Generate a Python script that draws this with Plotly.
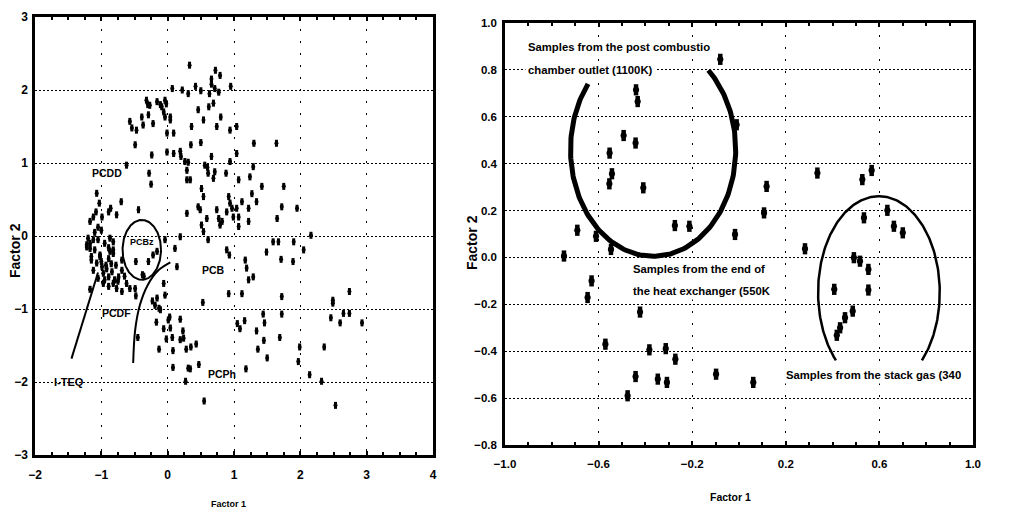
import numpy as np
import plotly.graph_objects as go

# ---------------- data: left panel (factor scores of all samples) ----------------
left_x = [
    0.33, 0.72, 0.66, 0.79, 0.66, 0.95, 0.07, 0.22, 0.31, 0.42, 0.50, 0.63, 0.71, 0.77,
    -0.32, -0.30, -0.27, -0.16, -0.09, -0.04, -0.11, -0.02, -0.06, 0.62, 0.69, 0.46, 0.80,
    -0.57, -0.54, -0.47, -0.39, -0.37, -0.29, -0.22, -0.04, 0.04, 0.04, 0.54, 0.36, 0.74, 0.94, 1.04,
    -0.01, 0.09, 0.50, 0.35, 1.30, 1.64, -0.49, -0.24, -0.01, 0.09, 0.19, 0.20, 0.26, 0.31, 0.66, 0.56, 0.60, 1.04, 0.94, 1.29,
    -0.62, -0.28, -0.25, 0.29, 0.34, 0.29, 0.61, 0.71, 0.69, 0.88, 1.07, 1.24, 1.42, 1.75,
    0.51, 0.54, 0.46, 0.49, 0.29, 0.92, 0.94, 1.27, 1.34, 1.12, 0.97, 1.04, 0.89, 0.99, 1.07, 1.22, 1.22, 0.74, 0.77, 0.79, 0.82, 0.59, 0.51, 0.54, 1.07, 1.65, 1.72, 1.95,
    0.19, 0.61, 0.11, 0.89, 0.93, 1.49, 1.59, 1.67, 1.90, 2.05, 2.16, 1.71, 1.89, 1.17, 1.19, 1.29, 1.22, 0.14, -0.06, 0.92, 1.12, 1.72, 1.72, 0.53,
    2.74, 2.49, 2.49, 2.65, 2.74, 2.46, 2.60, 2.93, 1.99, 2.36, 1.97, 2.14, 2.32, 2.53,
    1.44, 1.46, 1.05, 1.09, 1.16, 1.34, 1.45, 1.36, 1.50, 1.69, 1.18, 0.55, 0.27, 0.34, 0.47, 0.08,
    -0.13, -0.02, 0.08, 0.07, -0.06, 0.23, 0.24, 0.03, 0.19, 0.28, 0.35, 0.43, -0.17, -0.23, -0.19, -0.13, -0.16, -0.11, -0.45, -0.36, -0.48, -1.17, 0.01, 0.04, 0.19, 0.31, -0.04,
    -1.07, -1.03, -1.08, -1.12, -1.17, -0.99, -0.89, -0.86, -0.77, -0.70, -0.44, -1.00,
    -1.20, -1.22, -1.17, -1.12, -1.10, -1.02, -1.15, -0.87, -0.82, -0.89, -0.82, -0.04, -0.16, -0.22,
    -1.17, -1.22, -1.02, -1.15, -1.07, -0.99, -1.12, -0.97, -0.89, -0.84, -1.05, -0.82, -0.77, -0.69, -0.89, -0.62, -0.97, -0.74, -0.69, -0.87, -0.82, -0.69, -0.89, -0.57,
    -0.48, -0.29, -0.38, -0.49, -1.05, -0.95, -1.00, -0.93, -0.78, -0.80, -0.95, -1.10, -1.05, -0.92, -0.85, -0.75, -0.65,
]
left_y = [
    2.34, 2.27, 2.15, 2.20, 2.08, 2.05, 2.02, 2.00, 1.95, 2.05, 1.99, 1.95, 2.02, 1.97,
    1.86, 1.80, 1.79, 1.84, 1.77, 1.86, 1.80, 1.81, 1.70, 1.77, 1.82, 1.73, 1.63,
    1.57, 1.48, 1.45, 1.63, 1.52, 1.66, 1.54, 1.63, 1.59, 1.63, 1.59, 1.50, 1.50, 1.45, 1.50,
    1.41, 1.41, 1.28, 1.25, 1.27, 1.27, 1.25, 1.11, 1.15, 1.13, 1.16, 1.09, 1.02, 1.01, 1.09, 0.97, 0.94, 1.13, 1.02, 0.95,
    0.97, 0.86, 0.71, 0.90, 0.77, 0.77, 0.86, 0.88, 0.79, 0.86, 0.77, 0.81, 0.68, 0.68,
    0.65, 0.54, 0.40, 0.36, 0.31, 0.54, 0.45, 0.58, 0.47, 0.47, 0.38, 0.38, 0.33, 0.26, 0.26, 0.38, 0.20, 0.36, 0.24, 0.15, 0.20, 0.24, 0.15, 0.06, 0.13, 0.24, 0.40, 0.38,
    -0.01, -0.05, -0.17, -0.19, -0.26, -0.22, -0.08, -0.08, -0.08, -0.19, 0.01, -0.32, -0.35, -0.33, -0.44, -0.56, -0.60, -0.42, -0.65, -0.79, -0.79, -0.83, -1.07, -0.91,
    -0.76, -0.88, -0.92, -1.06, -1.06, -1.12, -1.19, -1.19, -1.52, -1.52, -1.72, -1.90, -1.99, -2.32,
    -1.07, -1.19, -1.20, -1.27, -1.16, -1.30, -1.43, -1.55, -1.67, -1.39, -1.82, -2.26, -1.99, -1.82, -1.76, -1.80,
    -1.55, -1.41, -1.57, -1.39, -1.27, -1.30, -1.40, -1.11, -1.14, -1.55, -1.52, -1.48, -1.18, -0.89, -0.95, -0.99, -0.85, -1.01, -1.39, -0.55, -0.82, -0.73, -1.15, -1.26, -1.42, -1.81, -0.81,
    0.585, 0.45, 0.33, 0.26, 0.20, 0.26, 0.33, 0.38, 0.29, 0.47, 0.36, 0.08,
    -0.03, -0.12, -0.17, -0.05, -0.19, -0.28, -0.28, -0.03, -0.08, -0.16, -0.19, -0.05, -0.21, -0.26,
    -0.10, -0.15, -0.26, -0.33, -0.37, -0.42, -0.47, -0.51, -0.56, -0.49, -0.58, -0.65, -0.72, -0.76, -0.69, -0.65, -0.65, -0.56, -0.47, -0.21, -0.24, -0.33, -0.31, -0.72,
    -0.35, -0.35, -0.53, -0.72, -0.05, -0.10, -0.35, -0.40, -0.40, -0.60, -0.60, 0.05, 0.12, -0.45, -0.38, -0.62, -0.55,
]

# ---------------- data: right panel ----------------
right_x = [-0.08, -0.44, -0.433, -0.01, -0.493, -0.442, -0.553, -0.543, -0.554, -0.409,
           0.118, 0.107, 0.335, 0.527, 0.567, 0.534, 0.634, 0.662, 0.70, -0.691,
           -0.611, -0.274, -0.212, -0.017, 0.282, -0.748, -0.547, 0.491, 0.517, 0.553,
           -0.63, -0.647, 0.407, 0.553, -0.423, 0.486, 0.453, 0.432, 0.418, -0.571,
           -0.383, -0.313, -0.272, -0.442, -0.347, -0.308, -0.098, 0.061, -0.476]
right_y = [0.845, 0.715, 0.665, 0.566, 0.52, 0.488, 0.445, 0.357, 0.314, 0.297,
           0.303, 0.19, 0.36, 0.332, 0.371, 0.169, 0.201, 0.133, 0.105, 0.116,
           0.09, 0.136, 0.133, 0.098, 0.037, 0.006, 0.034, -0.001, -0.016, -0.051,
           -0.10, -0.171, -0.136, -0.139, -0.233, -0.229, -0.257, -0.30, -0.332, -0.37,
           -0.394, -0.389, -0.434, -0.508, -0.519, -0.533, -0.498, -0.533, -0.59]

left_xticks = [-2, -1, 0, 1, 2, 3, 4]
left_yticks = [-3, -2, -1, 0, 1, 2, 3]
right_xticks = [-1.0, -0.6, -0.2, 0.2, 0.6, 1.0]
right_yticks = [-0.8, -0.6, -0.4, -0.2, 0.0, 0.2, 0.4, 0.6, 0.8, 1.0]

# group labels (left)  text, x, y, size
left_labels = [("PCDD", -0.91, 0.86, 10.5), ("PCBz", -0.38, -0.08, 9), ("PCB", 0.69, -0.47, 10.5),
               ("PCDF", -0.77, -1.06, 10.5), ("PCPh", 0.82, -1.89, 10.5), ("I-TEQ", -1.49, -2.0, 11)]
# annotation texts (right) text, x(left edge), y
right_labels = [("Samples from the post combustio", -0.915, 0.898),
                ("chamber outlet (1100K)", -0.915, 0.80),
                ("Samples from the end of", -0.466, -0.051),
                ("the heat exchanger (550K", -0.466, -0.145),
                ("Samples from the stack gas (340", 0.188, -0.502)]

# outline shapes: ellipse arcs (cx, cy, rx, ry, start_deg, end_deg, width)
right_arcs = [(-0.367, 0.46, 0.353, 0.455, 142, 408, 5),
              (0.598, -0.149, 0.26, 0.41, -45, 225, 2.5)]
left_arcs = [(-0.39, -0.19, 0.29, 0.41, 0, 360, 2)]
iteq_line_x = [-1.45, -1.05]
iteq_line_y = [-1.68, -0.50]
pcdf_curve_x = [-0.52, -0.49, -0.42, -0.30, -0.14, 0.04]
pcdf_curve_y = [-1.74, -1.29, -0.95, -0.67, -0.47, -0.36]

FONT = "Liberation Sans, Arial, sans-serif"
W, H = 1030, 513

fig = go.Figure()

# left points (small upright ovals)
fig.add_trace(go.Scatter(x=left_x, y=left_y, mode="markers", xaxis="x", yaxis="y",
                         marker=dict(symbol="circle", size=4, color="black", line=dict(width=0))))
fig.add_trace(go.Scatter(x=left_x, y=left_y, mode="markers", xaxis="x", yaxis="y",
                         marker=dict(symbol="line-ns", size=5, color="black",
                                     line=dict(width=3, color="black"))))
# right points (larger upright ovals)
fig.add_trace(go.Scatter(x=right_x, y=right_y, mode="markers", xaxis="x2", yaxis="y2",
                         marker=dict(symbol="circle", size=6.2, color="black", line=dict(width=0))))
fig.add_trace(go.Scatter(x=right_x, y=right_y, mode="markers", xaxis="x2", yaxis="y2",
                         marker=dict(symbol="line-ns", size=8, color="black",
                                     line=dict(width=4.5, color="black"))))


def arc(cx, cy, rx, ry, a0, a1):
    t = np.radians(np.linspace(a0, a1, 200))
    return cx + rx * np.cos(t), cy + ry * np.sin(t)


for (cx, cy, rx, ry, a0, a1, w) in right_arcs:
    ax_, ay_ = arc(cx, cy, rx, ry, a0, a1)
    fig.add_trace(go.Scatter(x=ax_, y=ay_, mode="lines", xaxis="x2", yaxis="y2",
                             line=dict(color="black", width=w)))
for (cx, cy, rx, ry, a0, a1, w) in left_arcs:
    ax_, ay_ = arc(cx, cy, rx, ry, a0, a1)
    fig.add_trace(go.Scatter(x=ax_, y=ay_, mode="lines", xaxis="x", yaxis="y",
                             line=dict(color="black", width=w)))
fig.add_trace(go.Scatter(x=iteq_line_x, y=iteq_line_y, mode="lines", xaxis="x", yaxis="y",
                         line=dict(color="black", width=2)))
fig.add_trace(go.Scatter(x=pcdf_curve_x, y=pcdf_curve_y, mode="lines", xaxis="x", yaxis="y",
                         line=dict(color="black", width=2, shape="spline")))

annotations = []
for (t, x, y, s) in left_labels:
    annotations.append(dict(text=t, x=x, y=y, xref="x", yref="y", showarrow=False, xanchor="center",
                            font=dict(family=FONT, size=s, color="black", weight="bold")))
for (t, x, y) in right_labels:
    annotations.append(dict(text=t, x=x, y=y, xref="x2", yref="y2", showarrow=False,
                            xanchor="left", font=dict(family=FONT, size=11.3, color="black", weight="bold"),
                            bgcolor="white", borderpad=2))
annotations += [
    dict(text="Factor 2", x=15 / W, y=1 - 251 / H, xref="paper", yref="paper", showarrow=False,
         xanchor="center", yanchor="middle", textangle=-90,
         font=dict(family=FONT, size=14, color="black", weight="bold")),
    dict(text="Factor 1", x=228 / W, y=1 - 504 / H, xref="paper", yref="paper", showarrow=False,
         xanchor="center", yanchor="middle", font=dict(family=FONT, size=9, color="black", weight="bold")),
    dict(text="Factor 2", x=472 / W, y=1 - 243 / H, xref="paper", yref="paper", showarrow=False,
         xanchor="center", yanchor="middle", textangle=-90,
         font=dict(family=FONT, size=14, color="black", weight="bold")),
    dict(text="Factor 1", x=730 / W, y=1 - 497 / H, xref="paper", yref="paper", showarrow=False,
         xanchor="center", yanchor="middle", font=dict(family=FONT, size=10.5, color="black", weight="bold")),
]

tickfont_l = dict(family=FONT, size=12, color="black", weight="bold")
tickfont_r = dict(family=FONT, size=11.5, color="black", weight="bold")
common = dict(showline=True, linewidth=2.5, linecolor="black", mirror="allticks", zeroline=False,
              showgrid=True, gridcolor="black", gridwidth=1.3, automargin=False)

fig.update_layout(
    width=W, height=H, margin=dict(l=0, r=0, t=0, b=0, autoexpand=False),
    paper_bgcolor="white", plot_bgcolor="white", showlegend=False,
    annotations=annotations,
    xaxis=dict(domain=[35 / W, 433 / W], range=[-2, 4], tickvals=left_xticks, tickfont=tickfont_l,
               anchor="y", griddash="2px,10px", ticks="inside", ticklen=4, tickwidth=1.5, tickcolor="black",
               ticklabelstandoff=7,
               minor=dict(ticks="inside", ticklen=3, dtick=0.25, tickcolor="black", showgrid=False),
               **common),
    yaxis=dict(domain=[1 - 455 / H, 1 - 17 / H], range=[-3, 3], tickvals=left_yticks, tickfont=tickfont_l,
               anchor="x", griddash="1.5px,2.5px", ticks="", ticklabelstandoff=2, **common),
    xaxis2=dict(domain=[505 / W, 973 / W], range=[-1.0, 1.0], tickvals=right_xticks, tickformat=".1f",
                tickfont=tickfont_r, anchor="y2", griddash="2px,10px", ticks="inside", ticklen=4,
                tickwidth=1.5, tickcolor="black", ticklabelstandoff=6,
                minor=dict(ticks="inside", ticklen=3, dtick=0.1, tickcolor="black", showgrid=False),
                **common),
    yaxis2=dict(domain=[1 - 445 / H, 1 - 23 / H], range=[-0.8, 1.0], tickvals=right_yticks, tickformat=".1f",
                tickfont=tickfont_r, anchor="x2", griddash="1.5px,2.5px", ticks="", ticklabelstandoff=3,
                **common),
)

fig.write_html("out.html", config={"displayModeBar": False},
               post_script="document.body.style.margin='0px';document.body.style.overflow='hidden';")
